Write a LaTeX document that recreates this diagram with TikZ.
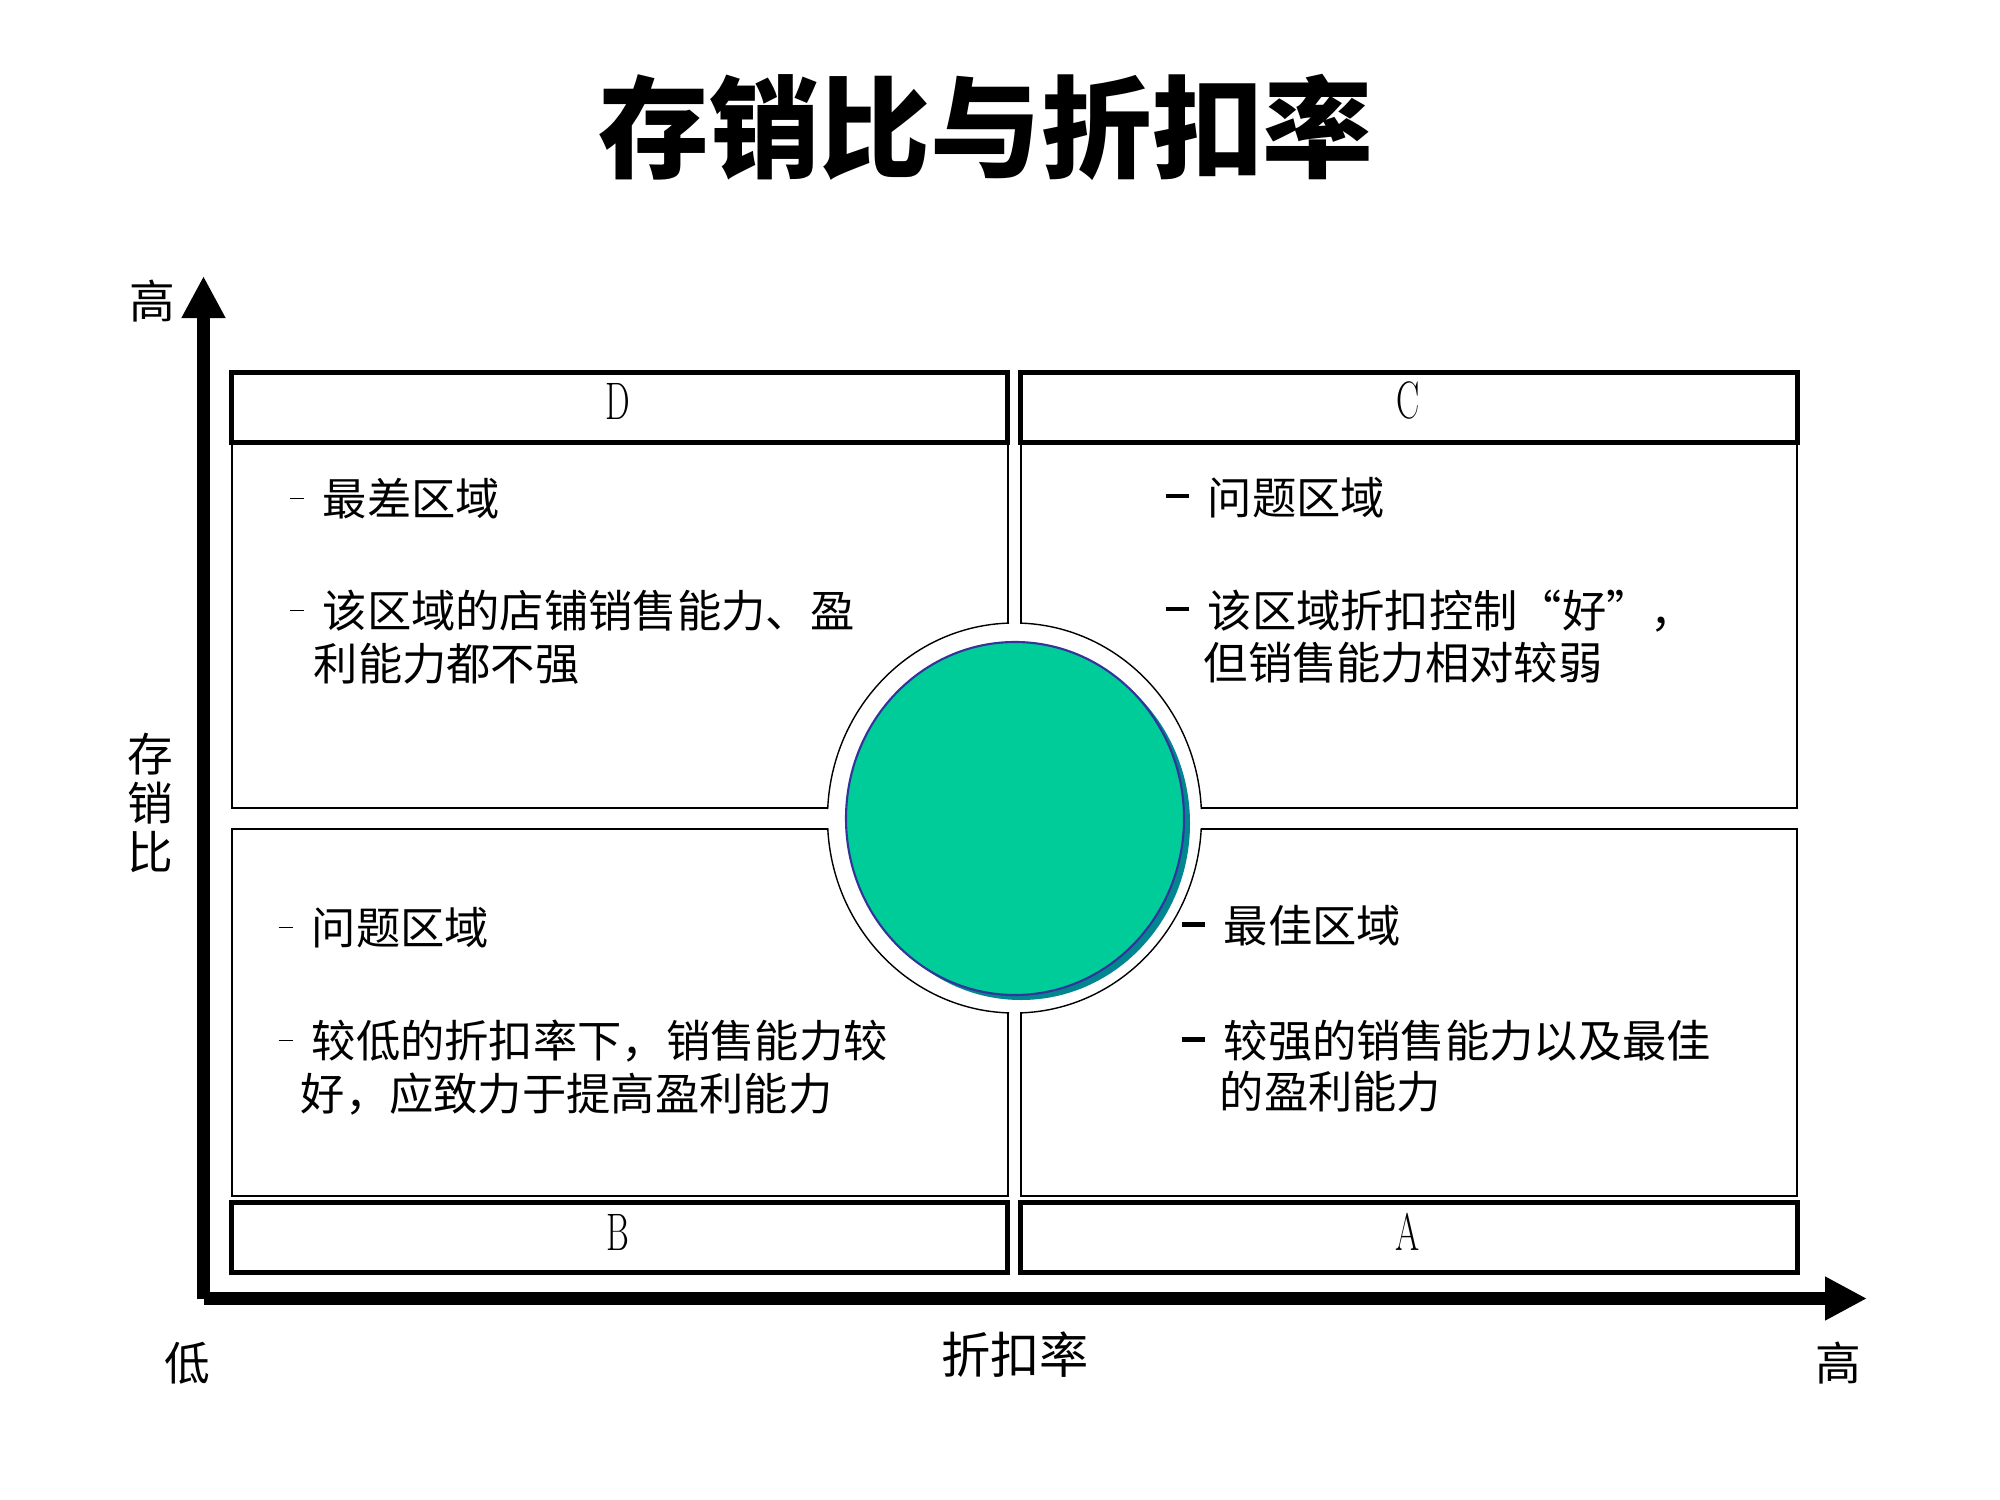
\documentclass[tikz,border=0pt]{standalone}
\usepackage{fontspec}
\newfontfamily\cjk{Noto Sans CJK SC}
\usetikzlibrary{arrows.meta}
\definecolor{ballgreen}{RGB}{0,204,153}
\definecolor{ballshadow}{RGB}{0,134,145}
\definecolor{ballline}{RGB}{51,51,153}
\newcommand{\thindash}{\rule[0.36em]{0.14cm}{0.015cm}\hspace{0.19cm}}
\newcommand{\thickdash}{\rule[0.35em]{0.23cm}{0.045cm}\hspace{0.19cm}}
\tikzset{
  itemtext/.style={font=\cjk\fontsize{12.6pt}{15pt}\selectfont, anchor=base west, inner sep=0pt},
  axislabel/.style={font=\cjk\fontsize{13pt}{13.9pt}\selectfont, inner sep=0pt, align=center},
  quadname/.style={font=\fontsize{15pt}{15pt}\selectfont, inner sep=0pt},
  hdrbox/.style={line width=0.05cm},
  panelbox/.style={line width=0.4pt},
  axisline/.style={line width=0.13cm, -{Triangle[length=0.42cm,width=0.41cm]}}
}
\begin{document}
\begin{tikzpicture}[x=0.01cm,y=-0.01cm]
\useasboundingbox (0,0) rectangle (2000,1500);
\node[font=\cjk\bfseries\fontsize{31.5pt}{32pt}\selectfont, inner sep=0pt] (title) at (986,127) {存销比与折扣率};
\draw[panelbox] (232,442) rectangle (1008,808);
\draw[panelbox] (1021,442) rectangle (1797,808);
\draw[panelbox] (232,829) rectangle (1008,1196);
\draw[panelbox] (1021,829) rectangle (1797,1196);
\begin{scope}
\clip (231,441) rectangle (1009,809) (1020,441) rectangle (1798,809)
      (231,828) rectangle (1009,1197) (1020,828) rectangle (1798,1197);
\draw[panelbox, fill=white] (1014.5,818) ellipse [x radius=187, y radius=195];
\end{scope}
\fill[ballshadow] (1021,823.5) ellipse [x radius=169, y radius=176.5];
\draw[ballline, line width=0.6pt, fill=ballgreen] (1015,818.5) ellipse [x radius=169, y radius=176.5];
\draw[hdrbox] (231.5,372.5) rectangle (1007.5,442.5);
\draw[hdrbox] (1020.5,372.5) rectangle (1797.5,442.5);
\draw[hdrbox] (231.5,1202.5) rectangle (1007.5,1272.5);
\draw[hdrbox] (1020.5,1202.5) rectangle (1797.5,1272.5);
\node[quadname] (qD) at (618,401) {\scalebox{0.66}[1]{D}};
\node[quadname] (qC) at (1408,400) {\scalebox{0.66}[1]{C}};
\node[quadname] (qB) at (618,1232) {\scalebox{0.66}[1]{B}};
\node[quadname] (qA) at (1408,1232) {\scalebox{0.66}[1]{A}};
\node[itemtext] (d1) at (289,515) {\thindash 最差区域};
\node[itemtext] (d2) at (289,627) {\thindash 该区域的店铺销售能力、盈};
\node[itemtext] (d3) at (313,680) {利能力都不强};
\node[itemtext] (c1) at (1165,514) {\thickdash 问题区域};
\node[itemtext] (c2) at (1165,627) {\thickdash 该区域折扣控制“好”，};
\node[itemtext] (c3) at (1203,679) {但销售能力相对较弱};
\node[itemtext] (b1) at (278,944) {\thindash 问题区域};
\node[itemtext] (b2) at (278,1057) {\thindash 较低的折扣率下，销售能力较};
\node[itemtext] (b3) at (300,1110) {好，应致力于提高盈利能力};
\node[itemtext] (a1) at (1181,942) {\thickdash 最佳区域};
\node[itemtext] (a2) at (1181,1057) {\thickdash 较强的销售能力以及最佳};
\node[itemtext] (a3) at (1219,1108) {的盈利能力};
\coordinate (origin) at (203.5,1298.5);
\coordinate (ytip) at (203.5,276);
\coordinate (xtip) at (1867,1298.5);
\draw[axisline] (origin) -- (ytip);
\draw[axisline] (origin) -- (xtip);
\node[axislabel] (yhigh) at (152,301) {高};
\node[axislabel] (yname) at (150,803) {存\\销\\比};
\node[axislabel] (xlow) at (187,1363) {低};
\node[axislabel, font=\cjk\fontsize{14pt}{14pt}\selectfont] (xname) at (1015,1355) {折扣率};
\node[axislabel] (xhigh) at (1838,1363) {高};
\end{tikzpicture}
\end{document}
